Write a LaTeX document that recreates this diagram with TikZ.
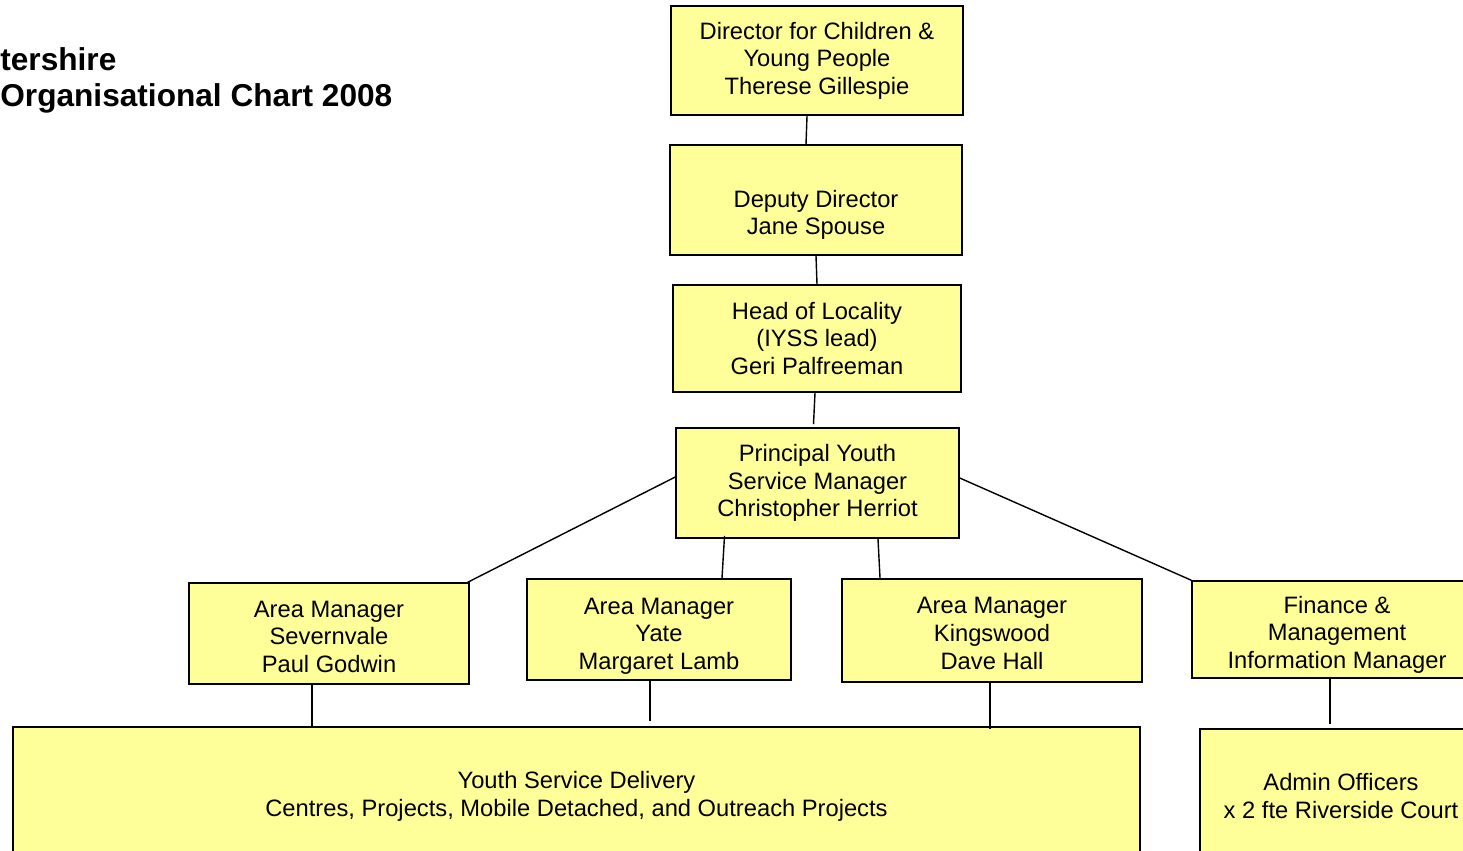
\documentclass[tikz,border=0pt]{standalone}
\usepackage{fontspec}
\setmainfont{Liberation Sans}
\usepackage{tikz}
\definecolor{boxyellow}{HTML}{FFFF99}
\newcommand{\chartfont}{\fontsize{13.5pt}{15.7pt}\selectfont}
\newcommand{\titlefont}{\fontsize{18pt}{20.5pt}\selectfont\bfseries}
\newcommand{\dropby}[1]{\rule{0pt}{#1}}
\tikzset{
  basic/.style = {draw, line width=0.9pt, fill=boxyellow, align=center,
                  inner sep=0pt, font=\chartfont},
  title/.style = {align=left, inner sep=0pt, anchor=north west, font=\titlefont},
  link/.style  = {draw, line width=0.8pt}
}

\begin{document}
\begin{tikzpicture}[x=0.02cm, y=-0.02cm]

\useasboundingbox (0,0) rectangle (1463,850);
\clip (0,0) rectangle (1463,850);

\node[title] (title) at (0,47) {tershire\\Organisational Chart 2008};

% management line
\node[basic, minimum width=5.84cm, minimum height=2.18cm] (dir) at (817,60.5)
  {Director for Children \&\\Young People\\Therese Gillespie};
\node[basic, minimum width=5.84cm, minimum height=2.2cm] (dep) at (816,200)
  {\strut\\Deputy Director\\Jane Spouse};
\node[basic, minimum width=5.76cm, minimum height=2.14cm] (head) at (817,338.5)
  {Head of Locality\\(IYSS lead)\\Geri Palfreeman};
\node[basic, minimum width=5.66cm, minimum height=2.2cm] (princ) at (817.5,483)
  {Principal Youth\\Service Manager\\Christopher Herriot};

% area managers and finance
\node[basic, minimum width=5.6cm, minimum height=2.02cm] (sev) at (329,633.5)
  {\dropby{13.2pt}Area Manager\\Severnvale\\Paul Godwin};
\node[basic, minimum width=5.28cm, minimum height=2.02cm] (yate) at (659,629.5)
  {\dropby{16.6pt}Area Manager\\Yate\\Margaret Lamb};
\node[basic, minimum width=6cm, minimum height=2.06cm] (king) at (992,630.5)
  {\dropby{12.6pt}Area Manager\\Kingswood\\Dave Hall};
\node[basic, minimum width=5.8cm, minimum height=1.94cm] (fin) at (1337,629.5)
  {\dropby{15.5pt}Finance \&\\Management\\Information Manager};

% delivery
\node[basic, minimum width=22.54cm, minimum height=2.78cm] (ysd) at (576.5,796.5)
  {Youth Service Delivery\\Centres, Projects, Mobile Detached, and Outreach Projects};
\node[basic, minimum width=5.64cm, minimum height=2.68cm] (admin) at (1341,796)
  {Admin Officers\\x 2 fte Riverside Court};

\draw[link] ([xshift=-0.2cm]dir.south) -- ([xshift=-0.2cm]dep.north);
\draw[link] (dep.south) -- (head.north);
\draw[link] ([xshift=-0.04cm]head.south) -- ([xshift=-0.08cm,yshift=0.06cm]princ.north);
\draw[link] ([yshift=0.12cm]princ.west) -- ([xshift=-0.04cm]sev.north east);
\draw[link] ([xshift=-1.86cm,yshift=0.06cm]princ.south) -- ([xshift=1.26cm]yate.north);
\draw[link] ([xshift=1.21cm]princ.south) -- ([xshift=-2.24cm]king.north);
\draw[link] ([yshift=0.1cm]princ.east) -- (fin.north west);

\foreach \from/\dx/\dy in {sev/-0.34cm/0cm, yate/-0.18cm/0.1cm, king/-0.04cm/-0.06cm}
  \draw[link] ([xshift=\dx]\from.south) -- ([xshift=\dx,yshift=\dy]\from.south |- ysd.north);

\draw[link] ([xshift=-0.14cm]fin.south) -- ([xshift=-0.14cm,yshift=0.08cm]fin.south |- admin.north);
\end{tikzpicture}
\end{document}
